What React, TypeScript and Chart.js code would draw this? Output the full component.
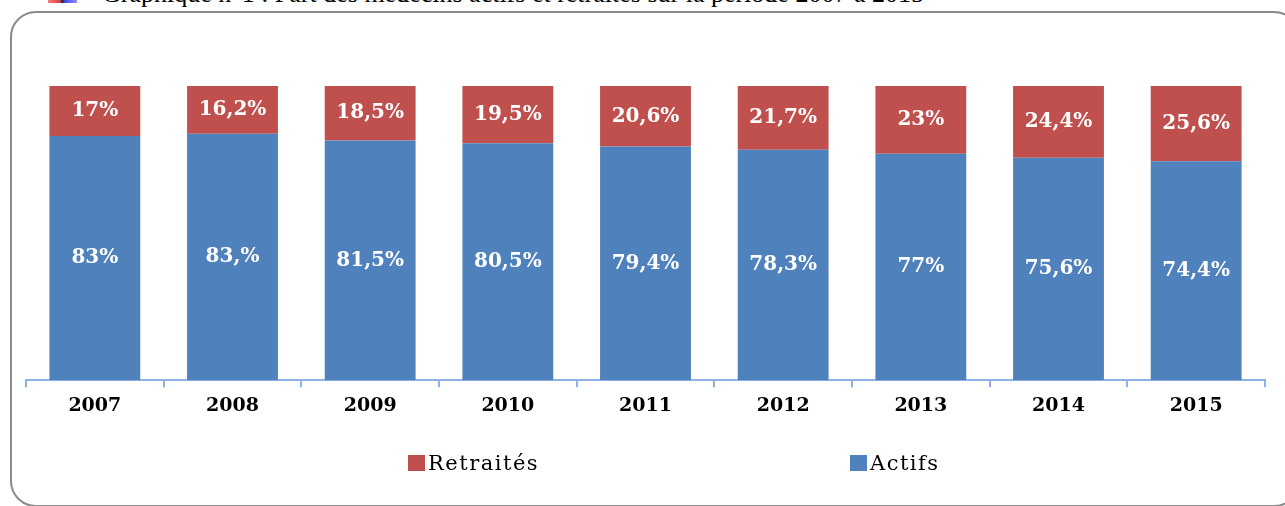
import React, { useEffect, useRef } from "react";
import { Chart, registerables } from "chart.js";

Chart.register(...registerables);

const categories = ["2007", "2008", "2009", "2010", "2011", "2012", "2013", "2014", "2015"];
const actifs = [83, 83.8, 81.5, 80.5, 79.4, 78.3, 77, 75.6, 74.4];
const retraites = [17, 16.2, 18.5, 19.5, 20.6, 21.7, 23, 24.4, 25.6];
const actifsLabels = ["83%", "83,%", "81,5%", "80,5%", "79,4%", "78,3%", "77%", "75,6%", "74,4%"];
const retraitesLabels = ["17%", "16,2%", "18,5%", "19,5%", "20,6%", "21,7%", "23%", "24,4%", "25,6%"];
const seriesNames = ["Actifs", "Retraités"];
const seriesColors = ["#4F81BD", "#C0504D"];
const titleText = "Graphique n°1 : Part des médecins actifs et retraités sur la période 2007 à 2015";

const labelsPlugin = {
  id: "barLabels",
  afterDatasetsDraw(chart: any) {
    const ctx = chart.ctx;
    ctx.save();
    ctx.font = "bold 20px 'DejaVu Serif'";
    ctx.fillStyle = "#FFFFFF";
    ctx.textAlign = "center";
    ctx.textBaseline = "middle";
    chart.data.datasets.forEach((ds: any, di: number) => {
      const meta = chart.getDatasetMeta(di);
      meta.data.forEach((el: any, i: number) => {
        const p = el.getProps(["x", "y", "base"], true);
        ctx.fillText(ds.valueLabels[i], p.x, (p.y + p.base) / 2);
      });
    });
    ctx.restore();
  },
};

export default function App() {
  const ref = useRef<HTMLCanvasElement>(null);
  useEffect(() => {
    const chart = new Chart(ref.current!, {
      type: "bar",
      data: {
        labels: categories,
        datasets: [
          {
            label: seriesNames[0],
            data: actifs,
            backgroundColor: seriesColors[0],
            valueLabels: actifsLabels,
            barPercentage: 0.66,
            categoryPercentage: 1,
          } as any,
          {
            label: seriesNames[1],
            data: retraites,
            backgroundColor: seriesColors[1],
            valueLabels: retraitesLabels,
            barPercentage: 0.66,
            categoryPercentage: 1,
          } as any,
        ],
      },
      options: {
        responsive: false,
        animation: false,
        layout: { padding: { top: 86, left: 26, right: 20, bottom: 82 } },
        plugins: { legend: { display: false }, tooltip: { enabled: false }, title: { display: false } },
        scales: {
          x: {
            stacked: true,
            grid: { drawOnChartArea: false, drawTicks: true, tickLength: 7, color: "#8DB3E2", lineWidth: 2 },
            border: { color: "#8DB3E2", width: 2 },
            ticks: { color: "#000", padding: 7, font: { family: "'DejaVu Serif'", size: 19, weight: "bold" } },
          },
          y: { stacked: true, display: false, min: 0, max: 100 },
        },
      },
      plugins: [labelsPlugin],
    });
    return () => chart.destroy();
  }, []);

  const legendItems = [
    { name: seriesNames[1], color: seriesColors[1], left: 408 },
    { name: seriesNames[0], color: seriesColors[0], left: 850 },
  ];

  return (
    <div style={{ position: "fixed", left: 0, top: 0, width: 1285, height: 506, overflow: "hidden", background: "#fff" }}>
      <div
        style={{
          position: "absolute",
          left: 10,
          top: 11,
          width: 1290,
          height: 496,
          border: "2px solid #8a8a8a",
          borderRadius: 26,
          boxSizing: "border-box",
        }}
      />
      <div style={{ position: "absolute", left: 48, top: 0, width: 29, height: 3, background: "linear-gradient(90deg,#f08080,#e04040 40%,#202060 50%,#4050f0 60%,#9090f0)" }} />
      <div
        style={{
          position: "absolute",
          left: 102,
          top: -19,
          fontFamily: "'Liberation Serif', serif",
          fontSize: 26,
          lineHeight: "26px",
          whiteSpace: "nowrap",
          color: "#000",
        }}
      >
        {titleText}
      </div>
      <canvas ref={ref} width={1285} height={506} style={{ position: "absolute", left: 0, top: 0 }} />
      {legendItems.map((it) => (
        <div
          key={it.name}
          style={{
            position: "absolute",
            left: it.left,
            top: 451,
            height: 24,
            display: "flex",
            alignItems: "center",
            fontFamily: "'DejaVu Serif', serif",
            fontSize: 21,
            letterSpacing: 1.5,
            color: "#000",
            whiteSpace: "nowrap",
          }}
        >
          <span style={{ display: "inline-block", width: 17, height: 16, background: it.color, marginRight: 3 }} />
          {it.name}
        </div>
      ))}
    </div>
  );
}
